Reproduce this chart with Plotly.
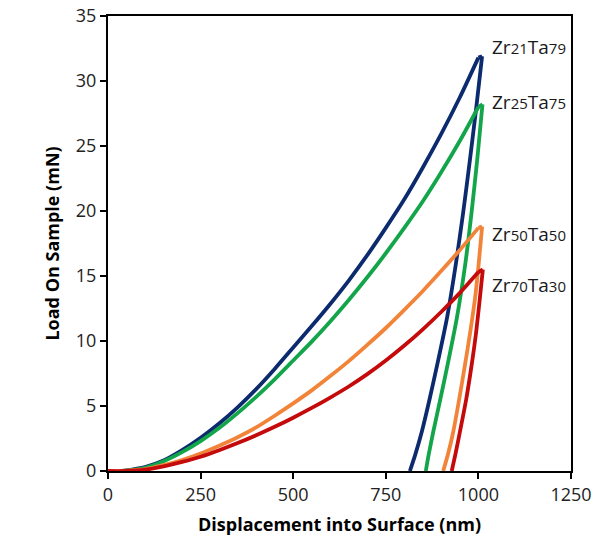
import plotly.graph_objects as go

# ---- data ----
samples = ["Zr21Ta79", "Zr25Ta75", "Zr50Ta50", "Zr70Ta30"]
colors = ["#0C2A6E", "#13A54A", "#F2843A", "#C40A0A"]

# Zr21Ta79 : loading branch and unloading branch (unloading starts at end of the hold)
zr21_load_disp = [40, 100, 150, 200, 250, 300, 350, 400, 450, 500, 550, 600, 650, 700, 750, 800, 850, 900, 950, 1000]
zr21_load_mN = [0, 0.3, 0.8, 1.6, 2.55, 3.65, 4.9, 6.3, 7.85, 9.5, 11.15, 12.85, 14.65, 16.6, 18.7, 20.9, 23.35, 25.95, 28.75, 31.8]
zr21_unl_disp = [1010, 994, 977, 959, 939, 916, 889, 868, 847, 830, 815]
zr21_unl_mN = [31.9, 27.9, 23.9, 19.9, 15.9, 11.9, 8.2, 5.5, 3.0, 1.3, 0]

# Zr25Ta75
zr25_load_disp = [40, 100, 150, 200, 250, 300, 350, 400, 450, 500, 550, 600, 650, 700, 750, 800, 850, 900, 950, 1000]
zr25_load_mN = [0, 0.25, 0.75, 1.45, 2.3, 3.3, 4.45, 5.7, 7.05, 8.5, 9.95, 11.5, 13.15, 14.9, 16.75, 18.7, 20.75, 23.0, 25.4, 28.0]
zr25_unl_disp = [1011, 997, 982, 964, 942, 917, 897, 878, 866, 858]
zr25_unl_mN = [28.2, 24.0, 20.0, 15.8, 11.8, 8.2, 5.5, 3.0, 1.3, 0]

# Zr50Ta50
zr50_load_disp = [30, 100, 150, 200, 250, 300, 350, 400, 450, 500, 550, 600, 650, 700, 750, 800, 850, 900, 950, 1000]
zr50_load_mN = [0, 0.15, 0.45, 0.85, 1.35, 1.95, 2.6, 3.35, 4.25, 5.2, 6.2, 7.3, 8.45, 9.7, 11.0, 12.4, 13.85, 15.4, 17.0, 18.7]
zr50_unl_disp = [1010, 1001, 991, 978, 964, 948, 932, 918, 905]
zr50_unl_mN = [18.8, 16.0, 13.3, 10.7, 8.2, 5.5, 3.0, 1.3, 0]

# Zr70Ta30
zr70_load_disp = [0, 50, 100, 150, 200, 250, 300, 350, 400, 450, 500, 550, 600, 650, 700, 750, 800, 850, 900, 950, 1000]
zr70_load_mN = [0, 0, 0.1, 0.35, 0.7, 1.1, 1.6, 2.15, 2.75, 3.4, 4.1, 4.85, 5.65, 6.5, 7.45, 8.5, 9.65, 10.9, 12.25, 13.7, 15.3]
zr70_unl_disp = [1012, 1004, 994, 982, 967, 950, 938, 928]
zr70_unl_mN = [15.5, 13.3, 10.7, 8.2, 5.5, 3.0, 1.3, 0]

label_x = [1031, 1031, 1031, 1031]
label_y = [32.6, 28.4, 18.2, 14.3]

x_ticks = [0, 250, 500, 750, 1000, 1250]
y_ticks = [0, 5, 10, 15, 20, 25, 30, 35]

loading = [(zr21_load_disp, zr21_load_mN), (zr25_load_disp, zr25_load_mN),
           (zr50_load_disp, zr50_load_mN), (zr70_load_disp, zr70_load_mN)]
unloading = [(zr21_unl_disp, zr21_unl_mN), (zr25_unl_disp, zr25_unl_mN),
             (zr50_unl_disp, zr50_unl_mN), (zr70_unl_disp, zr70_unl_mN)]

FONT = "Open Sans"
LW = 3.8

fig = go.Figure()
for name, col, (lx, ly), (ux, uy) in zip(samples, colors, loading, unloading):
    # loading branch
    fig.add_trace(go.Scatter(x=lx, y=ly, mode="lines", name=name,
                             line=dict(color=col, width=LW, shape="spline", smoothing=0.7),
                             showlegend=False))
    # hold at peak load (end of loading -> start of unloading)
    fig.add_trace(go.Scatter(x=[lx[-1], ux[0]], y=[ly[-1], uy[0]], mode="lines", name=name,
                             line=dict(color=col, width=LW), showlegend=False))
    # unloading branch
    fig.add_trace(go.Scatter(x=ux, y=uy, mode="lines", name=name,
                             line=dict(color=col, width=LW, shape="spline", smoothing=0.7),
                             showlegend=False))


def fmt(label):
    # digits drawn smaller, like the reference's old-style numerals
    out = ""
    for ch in label:
        if ch.isdigit():
            out += "<span style='font-size:15px'>" + ch + "</span>"
        else:
            out += ch
    return out


for name, lx, ly in zip(samples, label_x, label_y):
    fig.add_annotation(x=lx, y=ly, text=fmt(name), showarrow=False, xanchor="left", yanchor="middle",
                       font=dict(family=FONT, size=19, color="#1a1a1a"))

axis_common = dict(showline=True, linecolor="black", linewidth=2, mirror=True,
                   ticks="outside", ticklen=6, tickwidth=2, tickcolor="black",
                   showgrid=False, zeroline=False, automargin=False,
                   tickfont=dict(family=FONT, size=18, color="#222"))

fig.update_xaxes(range=[0, 1250], tickvals=x_ticks, ticktext=[str(v) for v in x_ticks],
                 title=dict(text="<b>Displacement into Surface (nm)</b>",
                            font=dict(family=FONT, size=18, color="black"), standoff=14),
                 **axis_common)
fig.update_yaxes(range=[0, 35], tickvals=y_ticks, ticktext=[str(v) for v in y_ticks],
                 title=dict(text="<b>Load On Sample (mN)</b>",
                            font=dict(family=FONT, size=18, color="black"), standoff=12),
                 **axis_common)

fig.update_layout(width=597, height=558, plot_bgcolor="white", paper_bgcolor="white",
                  margin=dict(l=108, r=26, t=16, b=87, autoexpand=False))

fig.write_html("out.html")
